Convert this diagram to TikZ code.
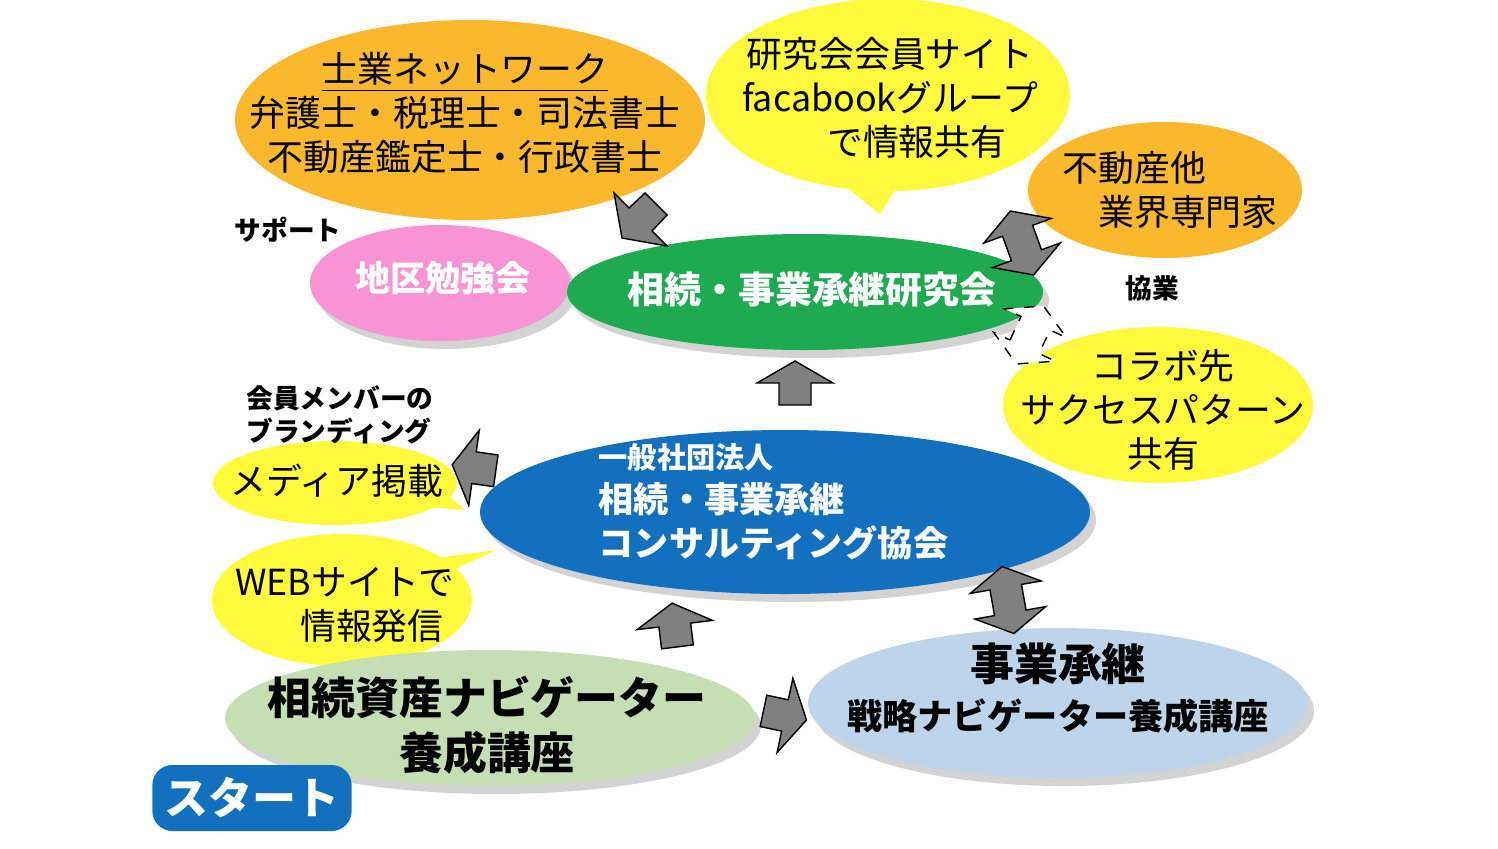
\documentclass[tikz,border=0pt]{standalone}
\usepackage{fontspec}
\setmainfont{Noto Sans CJK JP}
\usetikzlibrary{shapes.geometric,shadows,positioning}
\definecolor{orng}{RGB}{250,184,45}
\definecolor{ylw}{RGB}{255,250,60}
\definecolor{pnk}{RGB}{248,148,214}
\definecolor{grn}{RGB}{30,170,80}
\definecolor{blu}{RGB}{18,112,190}
\definecolor{lgrn}{RGB}{198,222,180}
\definecolor{lblu}{RGB}{190,212,235}
\definecolor{gry}{RGB}{128,128,128}
\begin{document}
\begin{tikzpicture}[
  x=0.01cm, y=-0.01cm,
  txt/.style = {align=center, inner sep=0pt, font=\fontsize{10.2}{12.5}\selectfont},
  sh/.style = {drop shadow={shadow xshift=0.6mm, shadow yshift=-0.8mm, opacity=0.35}},
  tail/.style = {fill=ylw},
  bold/.style = {font=\fontsize{7.6}{9.5}\selectfont\bfseries, align=left},
  blk/.pic = {\draw[fill=gry, line join=miter] (-20,-16) -- (2,-16) -- (2,-38) -- (24,0) -- (2,38) -- (2,16) -- (-20,16) -- cycle;},
  dblk/.pic = {\draw[fill=gry, line join=miter] (-13,-16) -- (13,-16) -- (13,-36) -- (34,0) -- (13,36) -- (13,16)
     -- (-13,16) -- (-13,36) -- (-34,0) -- (-13,-36) -- cycle;},
  dashblk/.pic = {\draw[fill=white, dashed] (-13,-16) -- (13,-16) -- (13,-34) -- (32,0) -- (13,34) -- (13,16)
     -- (-13,16) -- (-13,34) -- (-32,0) -- (-13,-34) -- cycle;}
  ]
  \useasboundingbox (0,0) rectangle (1498,848);

  % shapes
  \fill[orng] (470,120) ellipse (235 and 100);
  \fill[tail] (800,150) -- (880,214) -- (920,150) -- cycle;
  \fill[ylw] (888,95) ellipse (182 and 96);
  \fill[orng] (1165,190) ellipse (137 and 68);
  \fill[pnk, sh] (440,283) ellipse (130 and 58);
  \fill[grn, sh] (805,292) ellipse (238 and 58);
  \fill[ylw] (1158,405) ellipse (155 and 78);
  \fill[tail] (420,470) -- (465,510) -- (400,505) -- cycle;
  \fill[ylw] (335,483) ellipse (122 and 42);
  \fill[tail] (430,580) -- (497,550) -- (420,560) -- cycle;
  \fill[ylw] (342,600) ellipse (130 and 66);
  \fill[blu, sh] (785,512) ellipse (305 and 82);
  \fill[lgrn, sh] (490,718) ellipse (265 and 68);
  \fill[lblu, sh] (1058,703) ellipse (250 and 75);

  % texts
  \node[txt] (net) at (465,113)
    {\underline{士業ネットワーク}\\弁護士・税理士・司法書士\\不動産鑑定士・行政書士};
  \node[txt] (site) at (890,98) {研究会会員サイト\\facabookグループ\\\hspace*{1.5em}で情報共有};
  \node[txt, align=left] (pro) at (1170,190) {不動産他\\\hspace*{1em}業界専門家};
  \node[txt, text=white, font=\fontsize{10}{12}\selectfont\bfseries] (area) at (443,278) {地区勉強会};
  \node[txt, text=white, font=\fontsize{10.5}{12}\selectfont\bfseries] (lab) at (812,290) {相続・事業承継研究会};
  \node[txt] (colab) at (1163,410) {コラボ先\\サクセスパターン\\共有};
  \node[bold] (sup) at (288,230) {サポート};
  \node[bold] (kyo) at (1152,288) {協業};
  \node[anchor=north west, text=white, align=left, inner sep=0pt, font=\fontsize{10}{12.5}\selectfont\bfseries] (assoc) at (598,443)
    {{\fontsize{8.3}{10}\selectfont 一般社団法人}\\相続・事業承継\\コンサルティング協会};
  \node[bold] (brand) at (340,415) {会員メンバーの\\ブランディング};
  \node[txt] (media) at (337,481) {メディア掲載};
  \node[txt] (web) at (345,605) {WEBサイトで\\\hspace*{1.5em}情報発信};
  \node[txt, font=\fontsize{12.5}{15.5}\selectfont\bfseries] (navi) at (487,725) {相続資産ナビゲーター\\養成講座};
  \node[txt, font=\fontsize{10}{14}\selectfont\bfseries] (biz) at (1058,688)
    {{\fontsize{12.5}{15}\selectfont 事業承継}\\戦略ナビゲーター養成講座};
  \node[fill=blu, rounded corners=0.2cm, text=white, minimum width=1.72cm, minimum height=0.66cm,
    font=\fontsize{12.5}{14}\selectfont\bfseries] (start) at (252,798) {スタート};

  % arrows
  \draw[fill=gry, line join=miter] (645,193) -- (629,208) -- (614,193) -- (622,238) -- (667,246) -- (652,231) -- (667,215) -- cycle;
  \pic[rotate=110] at (1022,243) {dblk};
  \pic[rotate=65] at (1030,335) {dashblk};
  \pic[rotate=90] at (795,385) {blk};
  \pic[rotate=172] at (476,468) {blk};
  \pic[rotate=97] at (675,627) {blk};
  \pic[rotate=100] at (1008,600) {dblk};
  \pic[rotate=-12] at (783,715) {blk};
\end{tikzpicture}
\end{document}
